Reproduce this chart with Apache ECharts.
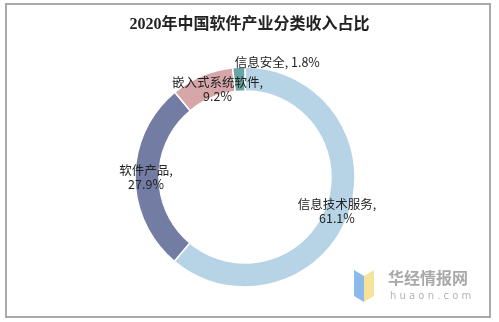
<!DOCTYPE html>
<html><head><meta charset="utf-8">
<script src="https://cdn.jsdelivr.net/npm/echarts@6/dist/echarts.min.js"></script>
<style>html,body{margin:0;padding:0;background:#fff}#c{width:499px;height:322px}</style>
</head><body><div id="c"></div>
<script>
const categories = ['信息技术服务', '软件产品', '嵌入式系统软件', '信息安全'];
const values = [61.1, 27.9, 9.2, 1.8];
const colors = ['#b7d3e6', '#737ca3', '#d6a6a9', '#6aa5a5'];
const title = '2020年中国软件产业分类收入占比';

const chart = echarts.init(document.getElementById('c'));
chart.setOption({
  animation: false,
  title: {
    text: title, left: 'center', top: 12,
    textStyle: { fontFamily: 'Liberation Serif, Noto Sans CJK SC', fontSize: 16, fontWeight: 'bold', color: '#222' }
  },
  graphic: [
    { type: 'rect', shape: { x: 6, y: 4, width: 484, height: 313 }, style: { fill: 'none', stroke: '#a9a9a9', lineWidth: 2 }, z: 0 },
    { type: 'polygon', shape: { points: [[354, 270], [364, 276], [364, 302], [354, 296]] }, style: { fill: '#8db9ec' } },
    { type: 'polygon', shape: { points: [[364, 276], [374, 270], [374, 296], [364, 302]] }, style: { fill: '#f6e39a' } },
    { type: 'text', left: 388, top: 270, style: { text: '华经情报网', font: 'bold 16px "Noto Sans CJK SC"', fill: '#a8a8a8' } },
    { type: 'text', left: 390, top: 291, style: { text: 'h u a o n . c o m', font: '10px "DejaVu Sans"', fill: '#b5b5b5' } }
  ],
  series: [{
    type: 'pie',
    center: [245, 177],
    radius: [86, 110],
    startAngle: 90,
    clockwise: true,
    itemStyle: { borderColor: '#fff', borderWidth: 1.5 },
    label: {
      position: 'inside',
      formatter: p => p.name + ',\n' + p.value + '%',
      fontFamily: 'Noto Sans CJK SC, Liberation Sans',
      fontSize: 12.5, color: '#222', lineHeight: 14
    },
    labelLine: { show: false },
    labelLayout: function (p) {
      const adj = [[-3, 0], [2, 1], [12, 5], [38, -14]];
      return { dx: adj[p.dataIndex][0], dy: adj[p.dataIndex][1] };
    },
    data: categories.map((n, i) => ({
      name: n, value: values[i], itemStyle: { color: colors[i] },
      label: i === 3 ? { formatter: p => p.name + ', ' + p.value + '%' } : undefined
    }))
  }]
});
</script></body></html>
